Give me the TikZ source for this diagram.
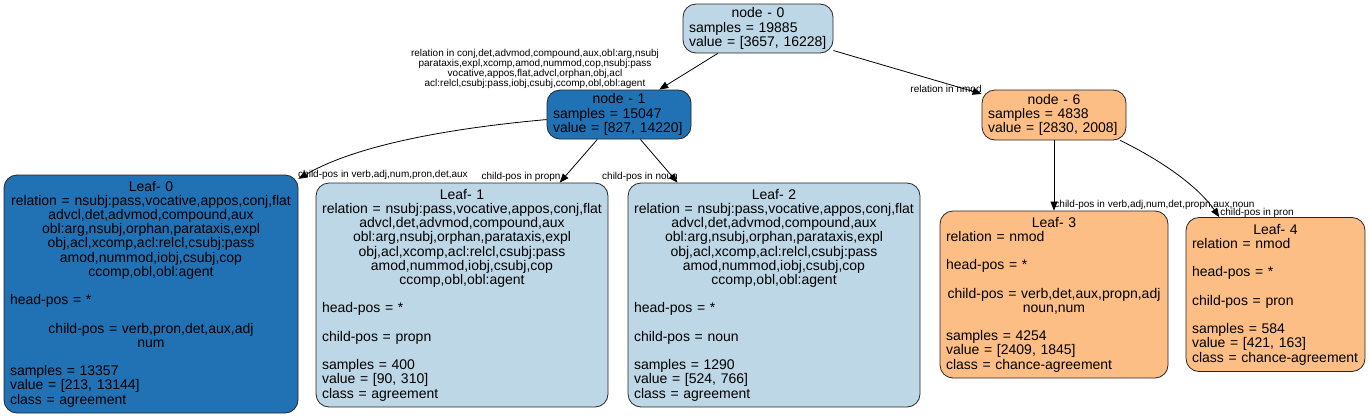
\documentclass[tikz,border=0pt]{standalone}
\usepackage{fontspec}
\setmainfont{Liberation Sans}
\usetikzlibrary{arrows.meta,calc}
\definecolor{lblue}{RGB}{189,215,231}
\definecolor{dblue}{RGB}{33,113,181}
\definecolor{orng}{RGB}{253,190,133}
\newcommand\LL[1]{\makebox[\hsize][l]{#1}}
\newcommand\RelLines{relation = nsubj:pass,vocative,appos,conj,flat\\
advcl,det,advmod,compound,aux\\
obl:arg,nsubj,orphan,parataxis,expl\\
obj,acl,xcomp,acl:relcl,csubj:pass\\
amod,nummod,iobj,csubj,cop\\
ccomp,obl,obl:agent}
\begin{document}
\begin{tikzpicture}[x=1pt,y=-1pt,
  box/.style={draw=black!85, line width=0.8pt, rounded corners=13pt, align=center,
    font=\fontsize{14}{14.2}\selectfont, inner xsep=6pt, inner ysep=0pt},
  edge/.style={-{Triangle[length=9pt,width=7pt]}, line width=0.8pt},
  elab/.style={align=center, inner sep=0pt, font=\fontsize{10}{10}\selectfont}]
\useasboundingbox (0,0) rectangle (1370,418);

% internal nodes
\node[box, fill=lblue, minimum width=150pt, minimum height=49pt, text width=138pt] (n0) at (758,28.5)
  {node - 0\\ \LL{samples = 19885}\\ \LL{value = [3657, 16228]}};
\node[box, fill=dblue, minimum width=144pt, minimum height=49pt, text width=132pt] (n1) at (619,114.5)
  {node - 1\\ \LL{samples = 15047}\\ \LL{value = [827, 14220]}};
\node[box, fill=orng, minimum width=144pt, minimum height=50pt, text width=132pt] (n6) at (1054,115)
  {node - 6\\ \LL{samples = 4838}\\ \LL{value = [2830, 2008]}};

% leaves
\node[box, fill=dblue, minimum width=294pt, minimum height=238pt, text width=282pt] (l0) at (151,294)
  {Leaf- 0\\ \RelLines\\ \mbox{}\\ \LL{head-pos = *}\\ \mbox{}\\
   child-pos = verb,pron,det,aux,adj\\ num\\ \mbox{}\\
   \LL{samples = 13357}\\ \LL{value = [213, 13144]}\\ \LL{class = agreement}};
\node[box, fill=lblue, minimum width=292pt, minimum height=224pt, text width=280pt] (l1) at (462,295)
  {Leaf- 1\\ \RelLines\\ \mbox{}\\ \LL{head-pos = *}\\ \mbox{}\\
   \LL{child-pos = propn}\\ \mbox{}\\
   \LL{samples = 400}\\ \LL{value = [90, 310]}\\ \LL{class = agreement}};
\node[box, fill=lblue, minimum width=292pt, minimum height=224pt, text width=280pt] (l2) at (774,295)
  {Leaf- 2\\ \RelLines\\ \mbox{}\\ \LL{head-pos = *}\\ \mbox{}\\
   \LL{child-pos = noun}\\ \mbox{}\\
   \LL{samples = 1290}\\ \LL{value = [524, 766]}\\ \LL{class = agreement}};
\node[box, fill=orng, minimum width=228pt, minimum height=167pt, text width=216pt] (l3) at (1054,294.5)
  {Leaf- 3\\ \LL{relation = nmod}\\ \mbox{}\\ \LL{head-pos = *}\\ \mbox{}\\
   child-pos = verb,det,aux,propn,adj\\ noun,num\\ \mbox{}\\
   \LL{samples = 4254}\\ \LL{value = [2409, 1845]}\\ \LL{class = chance-agreement}};
\node[box, fill=orng, minimum width=179pt, minimum height=154pt, text width=167pt] (l4) at (1275.5,294.5)
  {Leaf- 4\\ \LL{relation = nmod}\\ \mbox{}\\ \LL{head-pos = *}\\ \mbox{}\\
   \LL{child-pos = pron}\\ \mbox{}\\
   \LL{samples = 584}\\ \LL{value = [421, 163]}\\ \LL{class = chance-agreement}};

% edges
\draw[edge] (n0) -- (n1);
\draw[edge] (n0) -- (n6);
\draw[edge] (n1.184.4) .. controls ($(n1.184.4)+(-90,8)$) and ($(l0.38.3)+(60,-35)$) .. (l0.38.3);
\draw[edge] (n1) -- (l1);
\draw[edge] (n1) -- (l2);
\draw[edge] (n6) -- (l3);
\draw[edge] (n6.-21.6) .. controls ($(n6.-21.6)+(45,22)$) and ($(l4.126)+(-20,-29)$) .. (l4.126);

% edge labels
\node[elab] (t01) at (535,69)
  {relation in conj,det,advmod,compound,aux,obl:arg,nsubj\\
   parataxis,expl,xcomp,amod,nummod,cop,nsubj:pass\\
   vocative,appos,flat,advcl,orphan,obj,acl\\
   acl:relcl,csubj:pass,iobj,csubj,ccomp,obl,obl:agent};
\node[elab] (t06) at (946,88.5) {relation in nmod};
\node[elab] (t10) at (383,175) {child-pos in verb,adj,num,pron,det,aux};
\node[elab] (t11) at (521,177) {child-pos in propn};
\node[elab] (t12) at (640,177) {child-pos in noun};
\node[elab] (t63) at (1154.5,205.3) {child-pos in verb,adj,num,det,propn,aux,noun};
\node[elab] (t64) at (1257,212.7) {child-pos in pron};
\end{tikzpicture}
\end{document}
